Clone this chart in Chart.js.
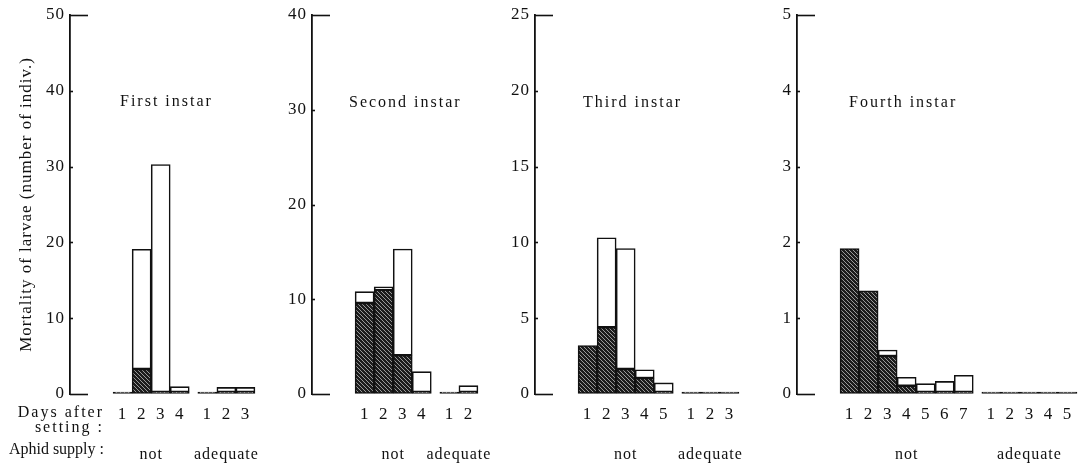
<!DOCTYPE html>
<html lang="en">
<head>
<meta charset="UTF-8">
<title>Mortality of larvae</title>
<script src="https://cdn.jsdelivr.net/npm/chart.js"></script>
<style>
  body { margin: 0; background: #fff; }
  #wrap { position: relative; width: 1086px; height: 469px; overflow: hidden;
          font-family: "Liberation Serif", "DejaVu Serif", serif; color: #111; }
  .panel { position: absolute; top: 0; }
  .txt { position: absolute; font-size: 16px; line-height: 16px; letter-spacing: 2px; white-space: nowrap; }
  .lft { right: 982px; text-align: right; }
</style>
</head>
<body>
<div id="wrap">
  <div class="panel" id="p0"><canvas id="c0"></canvas></div>
  <div class="panel" id="p1"><canvas id="c1"></canvas></div>
  <div class="panel" id="p2"><canvas id="c2"></canvas></div>
  <div class="panel" id="p3"><canvas id="c3"></canvas></div>
  <div class="txt" style="left:120px; top:93px;">First instar</div>
  <div class="txt" style="left:349px; top:94px;">Second instar</div>
  <div class="txt" style="left:583px; top:94px;">Third instar</div>
  <div class="txt" style="left:849px; top:94px;">Fourth instar</div>
  <div class="txt lft" style="top:404px;">Days after</div>
  <div class="txt lft" style="top:419px;">setting :</div>
  <div class="txt lft" style="top:441px; letter-spacing:0px;">Aphid supply :</div>
</div>
<script>
    // dados (numero de larvas mortas por dia)
    const groupNames = ['not', 'adequate'];

    // First instar
    const daysNot1 = [1, 2, 3, 4];
    const daysAdq1 = [1, 2, 3];
    const hatchedNot1 = [0, 3.3, 0, 0];
    const openNot1 = [0, 15.8, 30, 0.7];
    const hatchedAdq1 = [0, 0, 0];
    const openAdq1 = [0, 0.6, 0.6];

    // Second instar
    const daysNot2 = [1, 2, 3, 4];
    const daysAdq2 = [1, 2];
    const hatchedNot2 = [9.6, 11.0, 4.1, 0];
    const openNot2 = [1.2, 0.3, 11.2, 2.15];
    const hatchedAdq2 = [0, 0];
    const openAdq2 = [0, 0.67];

    // Third instar
    const daysNot3 = [1, 2, 3, 4, 5];
    const daysAdq3 = [1, 2, 3];
    const hatchedNot3 = [3.2, 4.4, 1.65, 1.05, 0];
    const openNot3 = [0, 5.9, 7.95, 0.55, 0.6];
    const hatchedAdq3 = [0, 0, 0];
    const openAdq3 = [0, 0, 0];

    // Fourth instar
    const daysNot4 = [1, 2, 3, 4, 5, 6, 7];
    const daysAdq4 = [1, 2, 3, 4, 5];
    const hatchedNot4 = [1.92, 1.36, 0.5, 0.11, 0, 0, 0];
    const openNot4 = [0, 0, 0.08, 0.11, 0.11, 0.14, 0.22];
    const hatchedAdq4 = [0, 0, 0, 0, 0];
    const openAdq4 = [0, 0, 0, 0, 0];

    const yMax = [50, 40, 25, 5];
    const yStep = [10, 10, 5, 1];
    const yTitle = 'Mortality of larvae (number of indiv.)';

    // layout
    const axisX = [70, 312, 535, 797];
    const slot = 19;
    const gap = 0.45;
    const lead = 43 / 19;
    const tail = 1.0;
    const fontFam = '"Liberation Serif", "DejaVu Serif", serif';

    // textura hachurada das barras escuras
    function hatch() {
        const c = document.createElement('canvas');
        c.width = 4; c.height = 4;
        const g = c.getContext('2d');
        g.fillStyle = '#1c1c1c';
        g.fillRect(0, 0, 4, 4);
        g.strokeStyle = '#9a9a9a';
        g.lineWidth = 1;
        g.beginPath();
        g.moveTo(-1, -1); g.lineTo(5, 5);
        g.moveTo(-3, 1); g.lineTo(1, 5);
        g.moveTo(3, -1); g.lineTo(5, 1);
        g.stroke();
        return g.createPattern(c, 'repeat');
    }
    const hatchFill = hatch();

    const spacingPlugin = {
        id: 'spacing',
        beforeDraw(chart) { chart.ctx.letterSpacing = '1px'; }
    };

    // traço do eixo y (colchete no topo e na base)
    const bracketPlugin = {
        id: 'bracket',
        afterDraw(chart) {
            const y = chart.scales.y;
            const ctx = chart.ctx;
            const x0 = chart.chartArea.left;
            ctx.save();
            ctx.strokeStyle = '#111';
            ctx.lineWidth = 1.6;
            y.ticks.forEach(function (t, i) {
                const py = Math.round(y.getPixelForValue(t.value)) + 0.5;
                const len = (i == 0 || i == y.ticks.length - 1) ? 18 : 3;
                ctx.beginPath();
                ctx.moveTo(x0, py);
                ctx.lineTo(x0 + len, py);
                ctx.stroke();
            });
            ctx.restore();
        }
    };

    function semPadding(s) {
        s.paddingLeft = 0; s.paddingRight = 0;
        s.paddingTop = 0; s.paddingBottom = 0;
    }

    function plotarPainel(k, daysNot, daysAdq, hatchedNot, openNot, hatchedAdq, openAdq) {
        const n = daysNot.length;
        const m = daysAdq.length;
        const pos = [];
        const labels = [];
        for (let i = 0; i < n; i++) { pos.push(i); labels.push(String(daysNot[i])); }
        for (let j = 0; j < m; j++) { pos.push(n + gap + j); labels.push(String(daysAdq[j])); }
        const hatched = hatchedNot.concat(hatchedAdq);
        const open = openNot.concat(openAdq);
        const groupPos = [(n - 1) / 2, n + gap + (m - 1) / 2];

        const xmin = -0.5 - lead;
        const xmax = n + gap + m - 1 + 0.5 + tail;
        const yW = k == 0 ? 70 : 50;
        const w = Math.round(yW + (xmax - xmin) * slot);

        const box = document.getElementById('p' + k);
        box.style.left = (axisX[k] - yW) + 'px';
        const cv = document.getElementById('c' + k);
        cv.width = w; cv.height = 469;
        cv.style.width = w + 'px'; cv.style.height = '469px';

        const dados = {
            datasets: [{
                label: 'hatched',
                data: pos.map(function (p, i) { return { x: p, y: hatched[i] }; }),
                backgroundColor: hatchFill,
                borderColor: '#111',
                borderWidth: 1.6,
                borderSkipped: false,
                minBarLength: 2,
                barPercentage: 1,
                categoryPercentage: 1
            }, {
                label: 'open',
                data: pos.map(function (p, i) { return { x: p, y: open[i] }; }),
                backgroundColor: '#fff',
                borderColor: '#111',
                borderWidth: 1.6,
                borderSkipped: false,
                barPercentage: 1,
                categoryPercentage: 1
            }]
        };

        const config = {
            type: 'bar',
            data: dados,
            options: {
                responsive: false,
                animation: false,
                layout: { padding: { top: 15, left: 0, right: 0, bottom: 0 }, autoPadding: false },
                plugins: { legend: { display: false }, tooltip: { enabled: false } },
                scales: {
                    x: {
                        type: 'linear',
                        stacked: true,
                        offset: false,
                        min: xmin,
                        max: xmax,
                        grid: { display: false, tickLength: 0 },
                        border: { display: false },
                        afterBuildTicks: function (s) { s.ticks = pos.map(function (v) { return { value: v }; }); },
                        afterFit: function (s) { s.height = 34; semPadding(s); },
                        ticks: {
                            autoSkip: false, maxRotation: 0, padding: 10, color: '#111',
                            font: { family: fontFam, size: 17 },
                            callback: function (v, i) { return labels[i]; }
                        }
                    },
                    x2: {
                        type: 'linear',
                        axis: 'x',
                        position: 'bottom',
                        offset: false,
                        min: xmin,
                        max: xmax,
                        grid: { display: false, tickLength: 0 },
                        border: { display: false },
                        afterBuildTicks: function (s) { s.ticks = groupPos.map(function (v) { return { value: v }; }); },
                        afterFit: function (s) { s.height = 41; semPadding(s); },
                        ticks: {
                            autoSkip: false, maxRotation: 0, padding: 17, color: '#111',
                            font: { family: fontFam, size: 16 },
                            callback: function (v, i) { return groupNames[i]; }
                        }
                    },
                    y: {
                        stacked: true,
                        min: 0,
                        max: yMax[k],
                        grid: { display: true, drawOnChartArea: false, drawTicks: false },
                        border: { display: true, color: '#111', width: 1.8 },
                        afterFit: function (s) { s.width = yW; semPadding(s); },
                        ticks: {
                            stepSize: yStep[k], padding: 5, color: '#111',
                            font: { family: fontFam, size: 17 }
                        },
                        title: {
                            display: k == 0,
                            text: yTitle,
                            color: '#111',
                            font: { family: fontFam, size: 17 },
                            padding: { top: 16, bottom: 0 }
                        }
                    }
                }
            },
            plugins: [spacingPlugin, bracketPlugin]
        };

        return new Chart(cv, config);
    }

    plotarPainel(0, daysNot1, daysAdq1, hatchedNot1, openNot1, hatchedAdq1, openAdq1);
    plotarPainel(1, daysNot2, daysAdq2, hatchedNot2, openNot2, hatchedAdq2, openAdq2);
    plotarPainel(2, daysNot3, daysAdq3, hatchedNot3, openNot3, hatchedAdq3, openAdq3);
    plotarPainel(3, daysNot4, daysAdq4, hatchedNot4, openNot4, hatchedAdq4, openAdq4);
</script>
</body>
</html>
